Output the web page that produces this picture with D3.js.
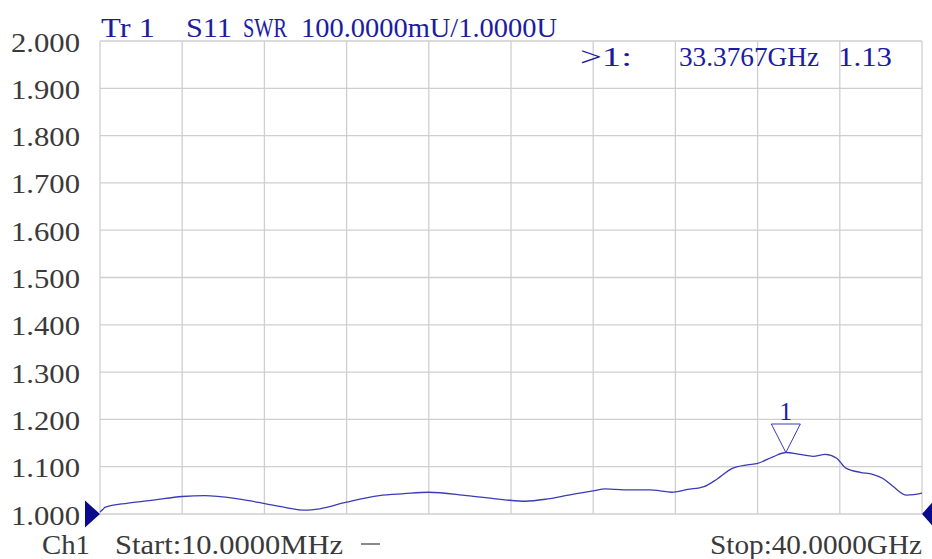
<!DOCTYPE html>
<html>
<head>
<meta charset="utf-8">
<script src="https://cdn.jsdelivr.net/npm/d3@7"></script>
<style>
  body { margin: 0; background: #fff; }
  svg { display: block; }
  text { font-family: "Liberation Serif", "DejaVu Serif", serif; }
</style>
</head>
<body>
<svg id="chart"></svg>
<script>
// trace data (GHz / SWR)
const freqGHz = [0.01, 0.2, 0.24, 1.38, 2.68, 4.0, 5.11, 6.72, 8.03, 9.0, 9.98, 10.7, 12.0, 13.6, 14.8, 16.0,
  17.85, 19.7, 20.7, 21.8, 22.8, 24.0, 24.6, 25.5, 26.8, 27.25, 27.8, 28.6, 29.4, 29.9, 30.8, 31.5, 32.0,
  32.75, 33.38, 34.06, 34.7, 35.3, 35.85, 36.3, 37.0, 37.6, 38.1, 38.6, 39.25, 39.6, 40.0]
const swr = [1.004, 1.012, 1.014, 1.023, 1.030, 1.037, 1.039, 1.032, 1.022, 1.014, 1.008, 1.011, 1.025, 1.039, 1.043, 1.046,
  1.039, 1.030, 1.027, 1.032, 1.040, 1.049, 1.053, 1.051, 1.051, 1.049, 1.046, 1.052, 1.058, 1.070, 1.097, 1.104, 1.107,
  1.121, 1.130, 1.126, 1.122, 1.126, 1.118, 1.097, 1.088, 1.084, 1.075, 1.058, 1.040, 1.041, 1.044]
const yTicks = [1.0, 1.1, 1.2, 1.3, 1.4, 1.5, 1.6, 1.7, 1.8, 1.9, 2.0]
const marker = {freq: 33.3767, value: 1.13}

const width = 932
const height = 559
const margin = {top: 41, right: 10, bottom: 45, left: 100}

const svg = d3.select('#chart').attr('width', width).attr('height', height)

const x = d3.scaleLinear().domain([0.01, 40]).range([margin.left, width - margin.right])
const y = d3.scaleLinear().domain([1, 2]).range([height - margin.bottom, margin.top])

const gridColor = '#cfcfcf'
const blue = '#1c1ca0'
const gray = '#3a3a3a'

// 网格
const xGrid = d3.range(11).map(i => 0.01 + i * (40 - 0.01) / 10)
svg.append('g').selectAll('line').data(xGrid).enter().append('line')
  .attr('x1', d => x(d)).attr('x2', d => x(d))
  .attr('y1', y(2)).attr('y2', y(1))
  .attr('stroke', gridColor).attr('stroke-width', 1.3)
svg.append('g').selectAll('line').data(yTicks).enter().append('line')
  .attr('x1', x(0.01)).attr('x2', x(40))
  .attr('y1', d => y(d)).attr('y2', d => y(d))
  .attr('stroke', gridColor).attr('stroke-width', 1.3)

// y tick labels
svg.append('g').selectAll('text').data(yTicks).enter().append('text')
  .attr('x', 80).attr('y', d => y(d) + 10.5)
  .attr('text-anchor', 'end')
  .attr('font-size', 27)
  .attr('fill', gray)
  .attr('textLength', 69).attr('lengthAdjust', 'spacingAndGlyphs')
  .text(d => d.toFixed(3))

// trace
const line = d3.line().x(d => x(d[0])).y(d => y(d[1])).curve(d3.curveMonotoneX)
svg.append('path')
  .datum(d3.zip(freqGHz, swr))
  .attr('d', line)
  .attr('fill', 'none')
  .attr('stroke', '#3b3bb8')
  .attr('stroke-width', 1.3)

// marker triangle + label
const mx = x(marker.freq), my = y(marker.value)
svg.append('path')
  .attr('d', `M${mx},${my} L${mx - 14.5},${my - 28.5} L${mx + 14.5},${my - 28.5} Z`)
  .attr('fill', 'none').attr('stroke', '#3b3bb8').attr('stroke-width', 1)
svg.append('text').attr('x', mx).attr('y', my - 33)
  .attr('text-anchor', 'middle').attr('font-size', 25).attr('fill', blue)
  .text('1')

// reference level triangles
const y0 = y(1)
svg.append('path')
  .attr('d', `M${x(0.01)},${y0} L${x(0.01) - 15},${y0 - 13.5} L${x(0.01) - 15},${y0 + 13.5} Z`)
  .attr('fill', '#0a0a8c')
svg.append('path')
  .attr('d', `M${x(40)},${y0} L${x(40) + 12},${y0 - 13.5} L${x(40) + 12},${y0 + 13.5} Z`)
  .attr('fill', '#0a0a8c')

// header texts
const header = [
  {t: 'Tr 1', x: 101, w: 54},
  {t: 'S11', x: 186, w: 46},
  {t: 'SWR', x: 243, w: 44},
  {t: '100.0000mU/1.0000U', x: 301, w: 256}
]
svg.append('g').selectAll('text').data(header).enter().append('text')
  .attr('x', d => d.x).attr('y', 36.5)
  .attr('font-size', 27).attr('fill', blue)
  .attr('textLength', d => d.w).attr('lengthAdjust', 'spacingAndGlyphs')
  .text(d => d.t)

const readout = [
  {t: '>1:', x: 580, w: 52},
  {t: marker.freq.toFixed(4) + 'GHz', x: 679, w: 140},
  {t: marker.value.toFixed(2), x: 838, w: 54}
]
svg.append('g').selectAll('text').data(readout).enter().append('text')
  .attr('x', d => d.x).attr('y', 66)
  .attr('font-size', 27).attr('fill', blue)
  .attr('textLength', d => d.w).attr('lengthAdjust', 'spacingAndGlyphs')
  .text(d => d.t)

// footer
const footer = [
  {t: 'Ch1', x: 42, w: 48},
  {t: 'Start:10.0000MHz', x: 115, w: 228},
  {t: 'Stop:40.0000GHz', x: 710, w: 212}
]
svg.append('g').selectAll('text').data(footer).enter().append('text')
  .attr('x', d => d.x).attr('y', 554)
  .attr('font-size', 27).attr('fill', gray)
  .attr('textLength', d => d.w).attr('lengthAdjust', 'spacingAndGlyphs')
  .text(d => d.t)
svg.append('line')
  .attr('x1', 361).attr('x2', 380).attr('y1', 544).attr('y2', 544)
  .attr('stroke', gray).attr('stroke-width', 1.2)
</script>
</body>
</html>
